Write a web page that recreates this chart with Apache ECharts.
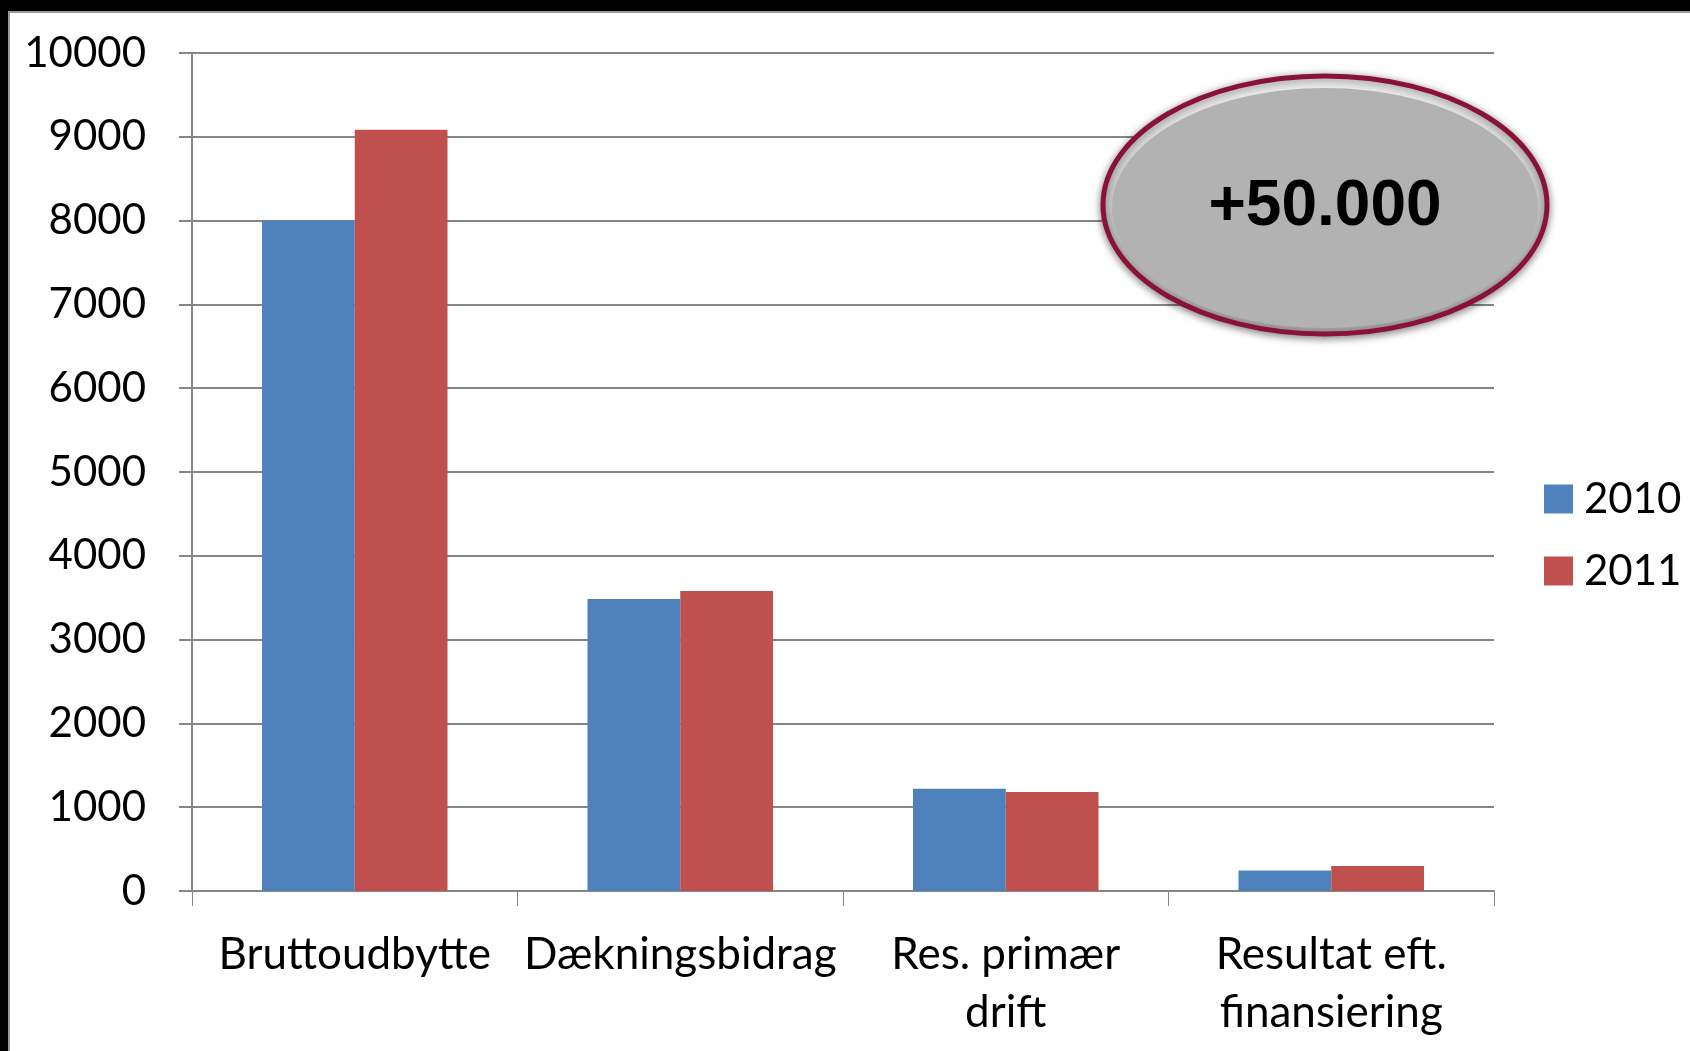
<!DOCTYPE html>
<html>
<head>
<meta charset="utf-8">
<script src="https://cdn.jsdelivr.net/npm/echarts@6/dist/echarts.min.js"></script>
<style>
  html, body { margin: 0; padding: 0; background: #000; }
  #panel {
    position: absolute; left: 8px; top: 11px; right: 0; bottom: 0;
    background: #fff; border-left: 2px solid #9a9a9a; border-top: 2px solid #9a9a9a;
  }
  #chart { position: absolute; left: 0; top: 0; width: 1690px; height: 1051px; }
</style>
</head>
<body>
<div id="panel"></div>
<div id="chart"></div>
<script>
const categories = ["Bruttoudbytte", "Dækningsbidrag", "Res. primær\ndrift", "Resultat eft.\nfinansiering"];
const years = ["2010", "2011"];
const values2010 = [8000, 3485, 1220, 245];
const values2011 = [9085, 3580, 1180, 298];
const yTicks = { min: 0, max: 10000, interval: 1000 };
const badgeText = "+50.000";

const font = "Lato";
const gray = "#868686";

const chart = echarts.init(document.getElementById("chart"));
chart.setOption({
  backgroundColor: "transparent",
  animation: false,
  textStyle: { fontFamily: font },
  grid: { left: 192, right: 196, top: 53, bottom: 160 },
  legend: {
    orient: "vertical",
    left: 1539,
    top: 473,
    itemWidth: 29,
    itemHeight: 29,
    itemGap: 30,
    icon: "rect",
    data: years,
    textStyle: { fontFamily: font, fontSize: 42, color: "#000", lineHeight: 40, padding: [0, 0, 0, 6] },
  },
  xAxis: {
    type: "category",
    data: categories,
    axisLine: { lineStyle: { color: gray, width: 2 } },
    axisTick: { show: true, length: 15, lineStyle: { color: gray, width: 1 } },
    axisLabel: {
      interval: 0,
      margin: 35,
      fontFamily: font,
      fontSize: 44,
      lineHeight: 58,
      color: "#000",
    },
  },
  yAxis: {
    type: "value",
    min: yTicks.min,
    max: yTicks.max,
    interval: yTicks.interval,
    axisLine: { show: true, lineStyle: { color: gray, width: 2 } },
    axisTick: { show: true, length: 13, lineStyle: { color: gray, width: 2 } },
    splitLine: { lineStyle: { color: gray, width: 2 } },
    axisLabel: {
      margin: 46,
      fontFamily: font,
      fontSize: 42,
      color: "#000",
      formatter: (v) => String(v),
    },
  },
  series: [
    {
      name: years[0],
      type: "bar",
      data: values2010,
      barWidth: "28.5%",
      barGap: "0%",
      itemStyle: { color: "#4F81BD" },
    },
    {
      name: years[1],
      type: "bar",
      data: values2011,
      barWidth: "28.5%",
      itemStyle: { color: "#C0504D" },
    },
  ],
  graphic: [
    {
      // rim with soft shadow
      type: "ellipse",
      z: 100,
      shape: { cx: 1325, cy: 205, rx: 222, ry: 129 },
      style: {
        fill: new echarts.graphic.LinearGradient(0, 0, 0, 1, [
          { offset: 0, color: "#f2f2f2" },
          { offset: 0.5, color: "#c8c8c8" },
          { offset: 1, color: "#a4a4a4" },
        ]),
        stroke: "#8a1236",
        lineWidth: 5,
        shadowBlur: 8,
        shadowColor: "rgba(0,0,0,0.45)",
        shadowOffsetY: 2,
      },
    },
    {
      type: "ellipse",
      z: 101,
      shape: { cx: 1325, cy: 208, rx: 213, ry: 120 },
      style: { fill: "#b2b2b2" },
    },
    {
      type: "text",
      z: 102,
      style: {
        x: 1325,
        y: 207,
        text: badgeText,
        fill: "#000",
        font: "bold 64px 'Liberation Sans', Arial, sans-serif",
        align: "center",
        verticalAlign: "middle",
      },
    },
  ],
});
</script>
</body>
</html>
